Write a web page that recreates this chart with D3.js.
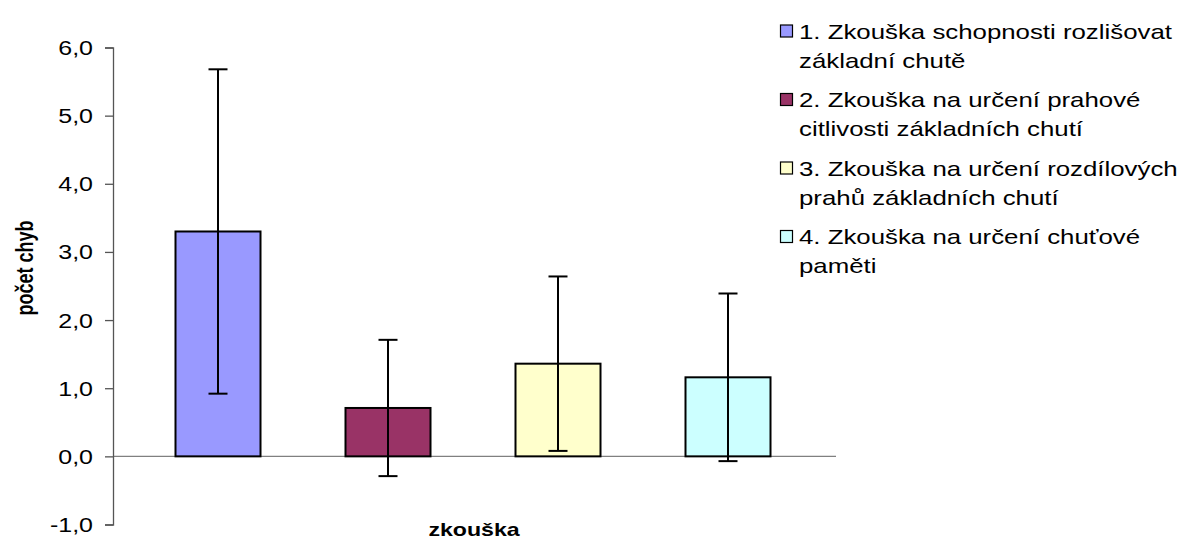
<!DOCTYPE html>
<html><head><meta charset="utf-8">
<script src="https://cdn.jsdelivr.net/npm/d3@7"></script>
<style>
html,body{margin:0;padding:0;background:#fff;}
svg{display:block;font-family:"Liberation Sans",Arial,sans-serif;}
</style></head>
<body>
<svg id="chart" width="1179" height="540"></svg>
<script>
// ---- data ----
const categories = [
  ["1. Zkouška schopnosti rozlišovat", "základní chutě"],
  ["2. Zkouška na určení prahové", "citlivosti základních chutí"],
  ["3. Zkouška na určení rozdílových", "prahů základních chutí"],
  ["4. Zkouška na určení chuťové", "paměti"]
];
const means  = [3.30, 0.71, 1.36, 1.16];
const errors = [2.38, 1.00, 1.28, 1.23];
const colors = ["#9999FF", "#993366", "#FFFFCC", "#CCFFFF"];
const yTicks = [-1, 0, 1, 2, 3, 4, 5, 6];
const yTitle = "počet chyb";
const xTitle = "zkouška";

// ---- layout ----
const SX = 1.25;   // horizontal text stretch seen in reference
const SXL = 1.23;  // legend stretch
const svg = d3.select("#chart");
const axisX = 113;
const y = d3.scaleLinear().domain([-1, 6]).range([524.5, 47.5]);
const x = d3.scaleBand().domain(d3.range(means.length)).range([133, 813])
  .paddingInner(0.5).paddingOuter(0.25);
const plotRight = 836;

const loc = d3.formatLocale({decimal: ",", thousands: " ", grouping: [3], currency: ["", " Kč"], minus: "-"});
const fmt = loc.format(".1f");

// zero line
svg.append("line")
  .attr("x1", axisX).attr("x2", plotRight)
  .attr("y1", y(0)).attr("y2", y(0))
  .attr("stroke", "#808080").attr("stroke-width", 1.3);

// y axis
const gy = svg.append("g").attr("transform", `translate(${axisX},0)`)
  .call(d3.axisLeft(y).tickValues(yTicks).tickFormat(fmt).tickSize(8).tickSizeOuter(8));
gy.select(".domain").attr("stroke", "#555").attr("stroke-width", 1.3);
gy.selectAll(".tick line").attr("stroke", "#555").attr("stroke-width", 1.3);
gy.selectAll(".tick text")
  .attr("x", -20 / SX)
  .attr("dy", "0.35em")
  .attr("transform", `scale(${SX},1)`)
  .attr("font-size", 20)
  .attr("font-family", "Liberation Sans, Arial, sans-serif")
  .attr("fill", "#000");

// bars
svg.selectAll("rect.bar").data(means).join("rect")
  .attr("class", "bar")
  .attr("x", (d, i) => x(i))
  .attr("width", x.bandwidth())
  .attr("y", d => y(Math.max(0, d)))
  .attr("height", d => Math.abs(y(d) - y(0)))
  .attr("fill", (d, i) => colors[i])
  .attr("stroke", "#000").attr("stroke-width", 2);

// error bars
const cap = 9.5;
const eg = svg.selectAll("g.err").data(means).join("g").attr("class", "err");
eg.append("line")
  .attr("x1", (d, i) => x(i) + x.bandwidth() / 2)
  .attr("x2", (d, i) => x(i) + x.bandwidth() / 2)
  .attr("y1", (d, i) => y(d + errors[i]))
  .attr("y2", (d, i) => y(d - errors[i]))
  .attr("stroke", "#000").attr("stroke-width", 2);
[1, -1].forEach(s => {
  eg.append("line")
    .attr("x1", (d, i) => x(i) + x.bandwidth() / 2 - cap)
    .attr("x2", (d, i) => x(i) + x.bandwidth() / 2 + cap)
    .attr("y1", (d, i) => y(d + s * errors[i]))
    .attr("y2", (d, i) => y(d + s * errors[i]))
    .attr("stroke", "#000").attr("stroke-width", 2);
});

// axis titles
svg.append("text")
  .attr("transform", `translate(474,536) scale(${SX},1)`)
  .attr("text-anchor", "middle")
  .attr("font-size", 18.5).attr("font-weight", "bold")
  .text(xTitle);
svg.append("text")
  .attr("transform", `translate(33,268) scale(1.35,1) rotate(-90)`)
  .attr("text-anchor", "middle")
  .attr("font-size", 18).attr("font-weight", "bold")
  .text(yTitle);

// legend
const legY0 = 31, legStep = 68.5, lineH = 29;
const lg = svg.selectAll("g.leg").data(categories).join("g").attr("class", "leg")
  .attr("transform", (d, i) => `translate(780,${legY0 + i * legStep})`);
lg.append("rect")
  .attr("x", 0.5).attr("y", -6).attr("width", 12).attr("height", 12)
  .attr("fill", (d, i) => colors[i]).attr("stroke", "#000").attr("stroke-width", 1.2);
lg.each(function(d) {
  const g = d3.select(this);
  d.forEach((line, j) => {
    g.append("text")
      .attr("transform", `translate(19,${7.5 + j * lineH}) scale(${SXL},1)`)
      .attr("font-size", 21)
      .text(line);
  });
});
</script>
</body></html>
